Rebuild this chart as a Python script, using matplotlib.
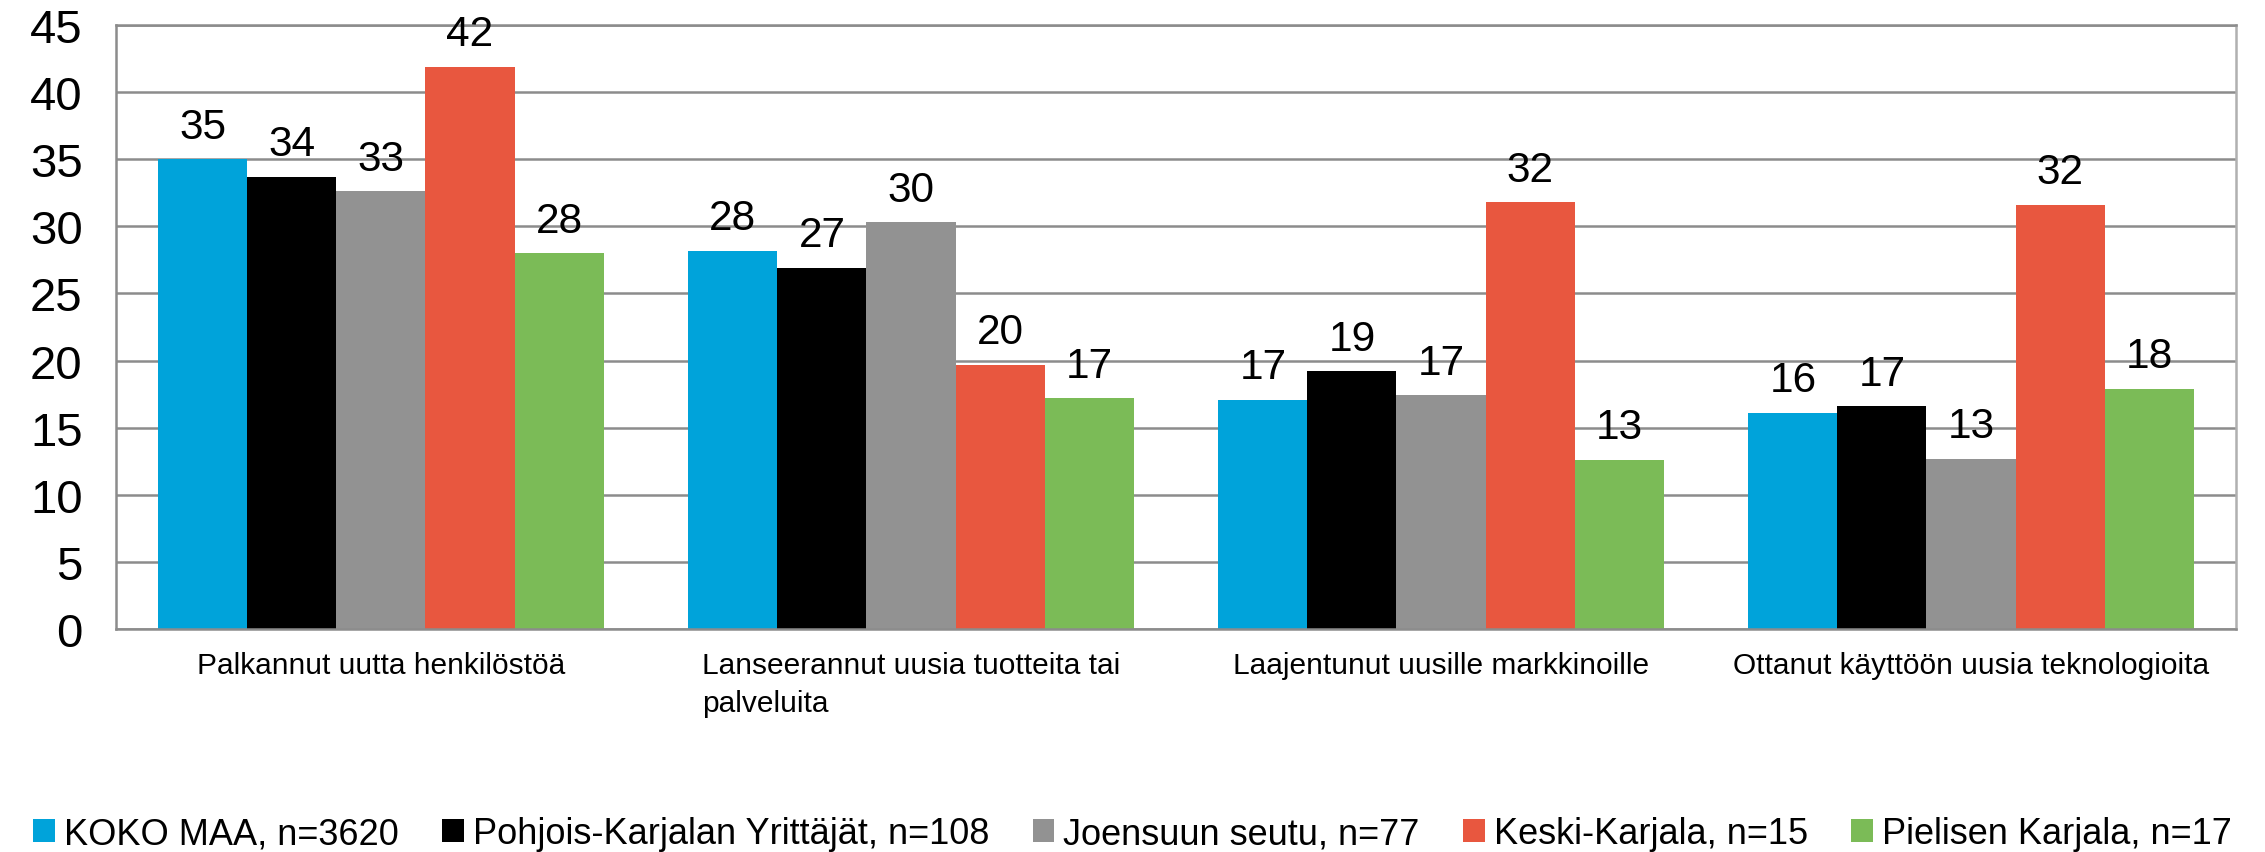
import matplotlib
matplotlib.use('Agg')
import matplotlib.pyplot as plt
import numpy as np

# Chart data
categories = [
    "Palkannut uutta henkilöstöä",
    "Lanseerannut uusia tuotteita tai\npalveluita",
    "Laajentunut uusille markkinoille",
    "Ottanut käyttöön uusia teknologioita",
]
series_names = [
    "KOKO MAA, n=3620",
    "Pohjois-Karjalan Yrittäjät, n=108",
    "Joensuun seutu, n=77",
    "Keski-Karjala, n=15",
    "Pielisen Karjala, n=17",
]
koko_maa = [35.0, 28.2, 17.1, 16.1]
pohjois_karjala = [33.7, 26.9, 19.2, 16.6]
joensuu = [32.6, 30.3, 17.4, 12.7]
keski_karjala = [41.9, 19.7, 31.8, 31.6]
pielinen = [28.0, 17.2, 12.6, 17.9]
series_values = [koko_maa, pohjois_karjala, joensuu, keski_karjala, pielinen]
colors = ['#00A3DA', '#000000', '#929292', '#E8573F', '#7BBB57']
y_ticks = [0, 5, 10, 15, 20, 25, 30, 35, 40, 45]

plt.rcParams['font.family'] = ['Liberation Sans', 'DejaVu Sans']

fig = plt.figure(figsize=(22.65, 8.53), dpi=100)
ax = fig.add_axes([0.0512, 0.2614, 0.936, 0.7081])

x = np.arange(len(categories))
bar_w = 0.168
n = len(series_values)
for i, (vals, name, col) in enumerate(zip(series_values, series_names, colors)):
    offs = (i - (n - 1) / 2) * bar_w
    bars = ax.bar(x + offs, vals, width=bar_w, color=col, label=name, zorder=2)
    ax.bar_label(bars, labels=[f"{v:.0f}" for v in vals], padding=9, fontsize=30.5, zorder=3)

ax.set_xlim(-0.5, len(categories) - 0.5)
ax.set_ylim(0, 45)
ax.set_yticks(y_ticks)
ax.tick_params(axis='y', length=0, pad=24, labelsize=34)
ax.set_xticks(x)
ax.set_xticklabels(categories, fontsize=21.5, multialignment='left', linespacing=1.45)
ax.tick_params(axis='x', length=0, pad=16)

ax.yaxis.grid(True, color='#8C8C8C', linewidth=1.8, zorder=0)
ax.set_axisbelow(True)
for side in ['left', 'bottom', 'right', 'top']:
    ax.spines[side].set_color('#8C8C8C')
    ax.spines[side].set_linewidth(1.8)
ax.spines['right'].set_color('#B0B0B0')

fig.legend(loc='center', bbox_to_anchor=(0.5, 1 - 835 / 853), ncol=5, frameon=False,
           fontsize=26, handlelength=0.6, handleheight=0.6, handletextpad=0.25,
           columnspacing=1.2, borderaxespad=0)

fig.savefig('out.png', dpi=100)
plt.close(fig)
